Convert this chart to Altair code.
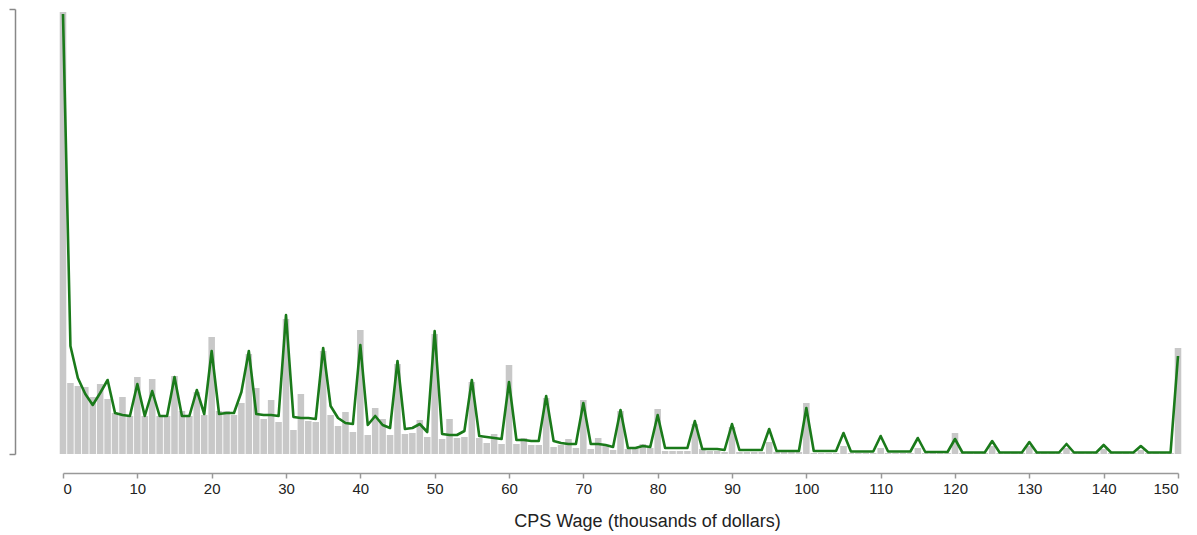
import altair as alt
import pandas as pd

# wage in thousands of dollars (bins 0..150)
wages = list(range(0, 151))

# observed histogram heights (relative units)
bar_heights = [
    442, 71, 68, 67, 57, 70, 55, 41, 57, 38,
    77, 38, 75, 38, 38, 78, 43, 38, 62, 39,
    117, 43, 43, 39, 51, 100, 66, 35, 54, 32,
    135, 24, 60, 33, 32, 103, 39, 28, 42, 22,
    124, 19, 46, 35, 19, 90, 20, 21, 34, 17,
    120, 15, 35, 16, 17, 72, 16, 11, 20, 10,
    89, 10, 16, 9, 9, 56, 7, 9, 15, 6,
    54, 5, 16, 8, 4, 43, 5, 7, 10, 6,
    45, 3, 3, 3, 3, 30, 5, 3, 3, 2,
    27, 2, 2, 2, 2, 12, 2, 2, 2, 2,
    51, 1, 1, 1, 1, 8, 1, 1, 1, 1,
    6, 1, 1, 1, 1, 6, 1, 1, 1, 1,
    21, 1, 1, 1, 1, 8, 1, 1, 1, 1,
    8, 1, 1, 1, 1, 6, 1, 1, 1, 1,
    5, 1, 1, 1, 1, 4, 1, 1, 1, 1,
    106,
]

# fitted line heights (same units)
line_heights = [
    440, 108, 76, 60, 49, 61, 74, 41, 39, 38,
    70, 38, 63, 38, 38, 77, 38, 38, 64, 40,
    103, 40, 41, 41, 62, 103, 40, 39, 39, 38,
    139, 37, 36, 36, 35, 106, 48, 36, 31, 30,
    109, 29, 38, 29, 26, 93, 25, 26, 30, 22,
    123, 20, 19, 19, 23, 74, 18, 17, 16, 15,
    72, 14, 14, 13, 13, 58, 13, 11, 10, 10,
    51, 10, 10, 9, 7, 44, 6, 6, 8, 7,
    39, 6, 6, 6, 6, 33, 5, 5, 5, 4,
    30, 4, 4, 4, 4, 25, 3, 3, 3, 3,
    46, 3, 3, 3, 3, 21, 2.5, 2.5, 2.5, 2.5,
    18, 2.5, 2.5, 2.5, 2.5, 16, 2, 2, 2, 2,
    15, 1.5, 1.5, 1.5, 1.5, 13, 1.5, 1.5, 1.5, 1.5,
    12, 1.5, 1.5, 1.5, 1.5, 10, 1.5, 1.5, 1.5, 1.5,
    9, 1.5, 1.5, 1.5, 1.5, 8, 1.5, 1.5, 1.5, 1.5,
    98,
]

x_ticks = list(range(0, 151, 10))
y_max = 445

df = pd.DataFrame({"wage": wages, "bar": bar_heights, "fit": line_heights})
df["lo"] = df["wage"] - 0.44
df["hi"] = df["wage"] + 0.44

xscale = alt.Scale(domain=[0, 150], nice=False, zero=False)
yscale = alt.Scale(domain=[0, y_max], nice=False)

bars = alt.Chart(df).mark_rect(color="#c8c8c8").encode(
    x=alt.X("lo:Q", scale=xscale,
            axis=alt.Axis(values=x_ticks, title="CPS Wage (thousands of dollars)",
                          grid=False, offset=19, tickSize=5, domainColor="#999999",
                          domainWidth=1.5, tickColor="#999999", tickWidth=1.5,
                          labelFont="Liberation Sans", labelFontSize=15,
                          labelColor="#222222", labelPadding=3,
                          titleFont="Liberation Sans", titleFontSize=18,
                          titleFontWeight="normal", titleColor="#222222",
                          titlePadding=16, titleX=584, titleAlign="center")),
    x2="hi:Q",
    y=alt.Y("bar:Q", scale=yscale,
            axis=alt.Axis(values=[0, y_max], labels=False, title=None, grid=False,
                          offset=48, tickSize=6, domainColor="#888888",
                          tickColor="#888888", domainWidth=1.5, tickWidth=1.5)),
    y2=alt.datum(0),
)

line = alt.Chart(df).mark_line(color="#1a7a1a", strokeWidth=2.6,
                               strokeJoin="round").encode(
    x=alt.X("wage:Q", scale=xscale),
    y=alt.Y("fit:Q", scale=yscale),
)

chart = alt.layer(bars, line).properties(
    width=1115, height=445,
    padding={"left": 0, "top": 0, "right": 5, "bottom": 5},
).configure_view(stroke=None)

chart.save("out.html", embed_options={"renderer": "svg", "actions": False})
